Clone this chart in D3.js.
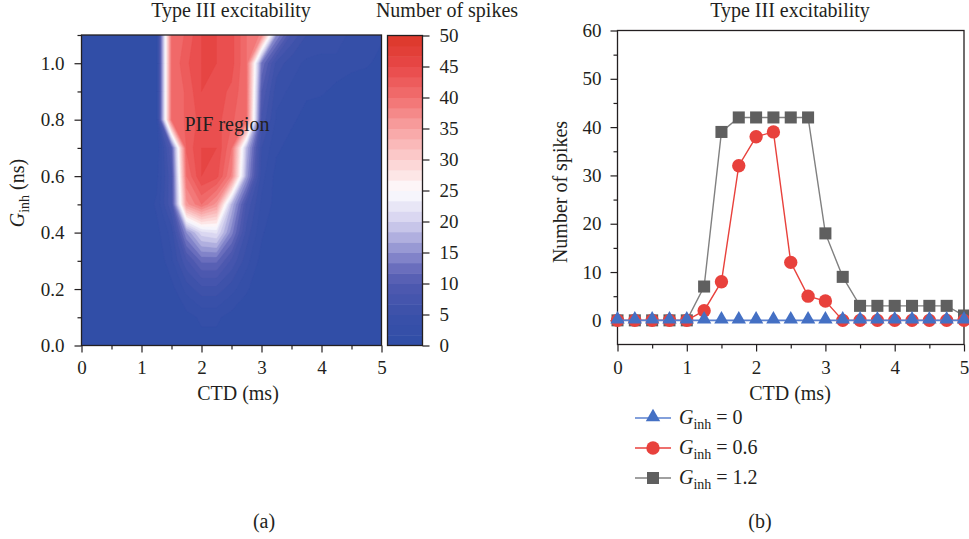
<!DOCTYPE html>
<html><head><meta charset="utf-8">
<script src="https://cdn.jsdelivr.net/npm/d3@7"></script>
<style>
body{margin:0;background:#fff}
text{font-family:"Liberation Serif","Times New Roman",serif;fill:#231f20}
</style></head>
<body><svg id="c" width="969" height="539" xmlns="http://www.w3.org/2000/svg"></svg>
<script>
// ---------- data ----------
const ctd = [0,0.25,0.5,0.75,1,1.25,1.5,1.75,2,2.25,2.5,2.75,3,3.25,3.5,3.75,4,4.25,4.5,4.75,5];
const gRows = [0,0.1,0.2,0.3,0.4,0.5,0.6,0.7,0.8,0.9,1.0,1.1];
// spike-count grid for the contour map, one row per G_inh value (bottom to top)
const spikes00 = [0,0,0,0,0,0,0,0,1,1,0,0,0,0,0,0,0,0,0,0,0];
const spikes01 = [0,0,0,0,0,0,0,1,2,2,1,0,0,0,0,0,0,0,0,0,0];
const spikes02 = [0,0,0,0,0,0,1,4,6,6,4,2,0,0,0,0,0,0,0,0,0];
const spikes03 = [0,0,0,0,0,0,3,8,12,12,8,4,1,0,0,0,0,0,0,0,0];
const spikes04 = [0,0,0,0,0,1,4,15,21,22,14,6,2,0,0,0,0,0,0,0,0];
const spikes05 = [0,0,0,0,0,2,8,36,40,36,18,8,3,1,0,0,0,0,0,0,0];
const spikes06 = [0,0,0,0,0,1,8,40,45,44,38,16,4,1,0,0,0,0,0,0,0];
const spikes07 = [0,0,0,0,0,0,10,42,45,45,40,18,5,2,1,0,0,0,0,0,0];
const spikes08 = [0,0,0,0,0,0,40,42,44,44,42,40,8,3,2,1,0,0,0,0,0];
const spikes09 = [0,0,0,0,0,0,40,42,45,44,43,40,10,4,3,2,2,1,1,0,0];
const spikes10 = [0,0,0,0,0,0,40,43,45,45,44,40,13,6,4,3,3,3,2,2,1];
const spikes11 = [0,0,0,0,0,0,40,42,45,45,44,40,38,15,8,5,4,4,3,3,2];
const grid = [spikes00,spikes01,spikes02,spikes03,spikes04,spikes05,spikes06,spikes07,spikes08,spikes09,spikes10,spikes11];

// line chart series
const series0  = [0,0,0,0,0,0,0,0,0,0,0,0,0,0,0,0,0,0,0,0,0];
const series06 = [0,0,0,0,0,2,8,32,38,39,12,5,4,0,0,0,0,0,0,0,0];
const series12 = [0,0,0,0,0,7,39,42,42,42,42,42,18,9,3,3,3,3,3,3,1];

const xTicks = [0,1,2,3,4,5];
const gTicks = [0,0.2,0.4,0.6,0.8,1.0];
const cbTicks = [0,5,10,15,20,25,30,35,40,45,50];
const spikeTicks = [0,10,20,30,40,50,60];
const colorStops = [0,5,10,12.5,15,20,22.5,25,27.5,30,35,40,45,50];
const colorHex = ["#2f4ea6","#3a50a9","#4f59b0","#6a6ebd","#8c8ecf","#d3d0ee","#e8e6f6","#fdfcff","#fde6e6","#fbd0d0","#f8a2a2","#f27070","#e84848","#dc3729"];

// ---------- setup ----------
const svg = d3.select("#c");
const FS = 19;
const color = d3.scaleLinear().domain(colorStops).range(colorHex).interpolate(d3.interpolateRgb);
const nBands = 30;
const bandW = 50/nBands;
const thresholds = d3.range(1, nBands).map(i => i*bandW);
const bandColor = v => color(v + bandW/2);

// ---------- left: contour ----------
const xL = d3.scaleLinear().domain([0,5]).range([81.5,381.5]);
const yL = d3.scaleLinear().domain([0,1.1]).range([345.5,35]);

svg.append("clipPath").attr("id","clipL").append("rect")
  .attr("x",xL(0)).attr("y",yL(1.1)).attr("width",xL(5)-xL(0)).attr("height",yL(0)-yL(1.1));

const gL = svg.append("g").attr("clip-path","url(#clipL)");
gL.append("rect").attr("x",xL(0)).attr("y",yL(1.1)).attr("width",xL(5)-xL(0)).attr("height",yL(0)-yL(1.1))
  .attr("fill",bandColor(0));

const nx = ctd.length, ny = gRows.length;
const flat = [].concat(...grid);
const dx = ctd[1]-ctd[0], dy = gRows[1]-gRows[0];
const proj = d3.geoTransform({point(x,y){ this.stream.point(xL(ctd[0]+(x-0.5)*dx), yL(gRows[0]+(y-0.5)*dy)); }});
const path = d3.geoPath(proj);
const contours = d3.contours().size([nx,ny]).thresholds(thresholds)(flat);
gL.selectAll("path.c").data(contours).join("path").attr("class","c")
  .attr("d",path).attr("fill",d=>bandColor(d.value)).attr("stroke",d=>bandColor(d.value)).attr("stroke-width",0.4);

gL.append("text").attr("x",227).attr("y",131).attr("text-anchor","middle").attr("font-size",20).text("PIF region");

svg.append("rect").attr("x",xL(0)).attr("y",yL(1.1)).attr("width",xL(5)-xL(0)).attr("height",yL(0)-yL(1.1))
  .attr("fill","none").attr("stroke","#231f20").attr("stroke-width",1.3);

function styleAxis(g){
  g.select(".domain").remove();
  g.selectAll("line").attr("stroke","#231f20").attr("stroke-width",1.2);
  g.selectAll("text").attr("font-size",FS).attr("fill","#231f20").attr("font-family",null);
}
// left x axis
svg.append("g").attr("transform",`translate(0,${yL(0)})`)
  .call(d3.axisBottom(xL).tickValues(xTicks).tickSize(7).tickPadding(8).tickFormat(d3.format("d"))).call(styleAxis);
svg.append("g").attr("transform",`translate(0,${yL(0)})`)
  .call(d3.axisBottom(xL).tickValues(xTicks.slice(0,-1).map(d=>d+0.5)).tickSize(4).tickFormat("")).call(styleAxis);
// left y axis
svg.append("g").attr("transform",`translate(${xL(0)},0)`)
  .call(d3.axisLeft(yL).tickValues(gTicks).tickSize(7).tickPadding(10).tickFormat(d3.format(".1f"))).call(styleAxis);
svg.append("g").attr("transform",`translate(${xL(0)},0)`)
  .call(d3.axisLeft(yL).tickValues(gTicks.map(d=>d+0.1)).tickSize(4).tickFormat("")).call(styleAxis);

svg.append("text").attr("x",231).attr("y",17).attr("text-anchor","middle").attr("font-size",20).text("Type III excitability");
svg.append("text").attr("x",238).attr("y",400).attr("text-anchor","middle").attr("font-size",20).text("CTD (ms)");
const yl = svg.append("text").attr("transform","translate(24,193) rotate(-90)").attr("text-anchor","middle").attr("font-size",20);
yl.append("tspan").attr("font-style","italic").text("G");
yl.append("tspan").attr("font-size",14).attr("dy",5).text("inh");
yl.append("tspan").attr("dy",-5).text(" (ns)");

// ---------- colorbar ----------
const cbX0 = 387.5, cbX1 = 422.5;
const yC = d3.scaleLinear().domain([0,50]).range([345.5,35.5]);
const bandStarts = d3.range(0, nBands).map(i => i*bandW);
svg.append("g").selectAll("rect").data(bandStarts).join("rect")
  .attr("x",cbX0).attr("width",cbX1-cbX0)
  .attr("y",d=>yC(d+bandW)).attr("height",d=>yC(d)-yC(d+bandW)+0.5)
  .attr("fill",d=>bandColor(d));
svg.append("rect").attr("x",cbX0).attr("y",yC(50)).attr("width",cbX1-cbX0).attr("height",yC(0)-yC(50))
  .attr("fill","none").attr("stroke","#231f20").attr("stroke-width",1.3);
svg.append("g").attr("transform",`translate(${cbX1},0)`)
  .call(d3.axisRight(yC).tickValues(cbTicks).tickSize(7).tickPadding(10)).call(styleAxis);
svg.append("text").attr("x",447).attr("y",17).attr("text-anchor","middle").attr("font-size",20).text("Number of spikes");

// ---------- right: line chart ----------
const xR = d3.scaleLinear().domain([0,5]).range([617.5,964]);
const yR = d3.scaleLinear().domain([-5,60]).range([344.5,30.5]);

svg.append("rect").attr("x",xR(0)).attr("y",yR(60)).attr("width",xR(5)-xR(0)).attr("height",yR(-5)-yR(60))
  .attr("fill","none").attr("stroke","#231f20").attr("stroke-width",1.3);
svg.append("g").attr("transform",`translate(0,${yR(-5)})`)
  .call(d3.axisBottom(xR).tickValues(xTicks).tickSize(7).tickPadding(9).tickFormat(d3.format("d"))).call(styleAxis);
svg.append("g").attr("transform",`translate(0,${yR(-5)})`)
  .call(d3.axisBottom(xR).tickValues(xTicks.slice(0,-1).map(d=>d+0.5)).tickSize(4).tickFormat("")).call(styleAxis);
svg.append("g").attr("transform",`translate(${xR(0)},0)`)
  .call(d3.axisLeft(yR).tickValues(spikeTicks).tickSize(7).tickPadding(9)).call(styleAxis);
svg.append("g").attr("transform",`translate(${xR(0)},0)`)
  .call(d3.axisLeft(yR).tickValues(spikeTicks.slice(0,-1).map(d=>d+5)).tickSize(4).tickFormat("")).call(styleAxis);

svg.append("text").attr("x",790).attr("y",17).attr("text-anchor","middle").attr("font-size",20).text("Type III excitability");
svg.append("text").attr("x",790).attr("y",400).attr("text-anchor","middle").attr("font-size",20).text("CTD (ms)");
svg.append("text").attr("transform","translate(567,192) rotate(-90)").attr("text-anchor","middle").attr("font-size",20).text("Number of spikes");

const seriesDefs = [
  {vals:series12, line:"#808080", fill:"#5f5f5f", sym:d3.symbolSquare, size:145, label:"1.2"},
  {vals:series06, line:"#e8413c", fill:"#e8413c", sym:d3.symbolCircle, size:140, label:"0.6"},
  {vals:series0,  line:"#5a80cf", fill:"#4470c4", sym:d3.symbolTriangle, size:90, label:"0"}
];
const line = d3.line().x((d,i)=>xR(ctd[i])).y(d=>yR(d));
seriesDefs.forEach(s=>{
  const g = svg.append("g");
  g.append("path").attr("d",line(s.vals)).attr("fill","none").attr("stroke",s.line).attr("stroke-width",s.sym===d3.symbolTriangle?1.8:1.4);
  g.selectAll("path.m").data(s.vals).join("path").attr("class","m")
    .attr("transform",(d,i)=>`translate(${xR(ctd[i])},${yR(d)+(s.sym===d3.symbolTriangle?-1:0)})`)
    .attr("d",d3.symbol(s.sym,s.size)).attr("fill",s.fill);
});

// legend
const legendRows = [{s:seriesDefs[2], y:418},{s:seriesDefs[1], y:448},{s:seriesDefs[0], y:478}];
legendRows.forEach(r=>{
  const g = svg.append("g");
  g.append("line").attr("x1",635).attr("x2",671).attr("y1",r.y).attr("y2",r.y).attr("stroke",r.s.line).attr("stroke-width",1.5);
  g.append("path").attr("transform",`translate(653,${r.y+(r.s.sym===d3.symbolTriangle?-1:0)})`).attr("d",d3.symbol(r.s.sym,r.s.size)).attr("fill",r.s.fill);
  const t = g.append("text").attr("x",679).attr("y",r.y+6).attr("font-size",20);
  t.append("tspan").attr("font-style","italic").text("G");
  t.append("tspan").attr("font-size",14).attr("dy",5).text("inh");
  t.append("tspan").attr("dy",-5).text(" = " + r.s.label);
});

svg.append("text").attr("x",264).attr("y",528).attr("text-anchor","middle").attr("font-size",20).text("(a)");
svg.append("text").attr("x",760).attr("y",528).attr("text-anchor","middle").attr("font-size",20).text("(b)");
</script></body></html>
